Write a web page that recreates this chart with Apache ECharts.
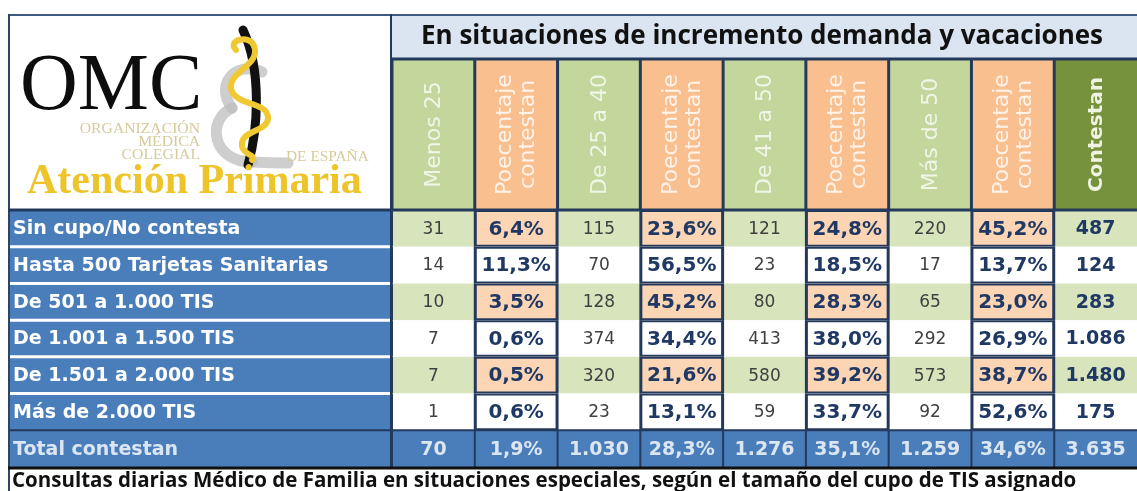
<!DOCTYPE html>
<html>
<head>
<meta charset="utf-8">
<script src="https://cdn.jsdelivr.net/npm/echarts@6/dist/echarts.min.js"></script>
<style>
  html, body { margin: 0; padding: 0; background: #fff; }
  #omc-table { width: 1137px; height: 491px; }
</style>
</head>
<body>
<div id="omc-table"></div>
<script>
const ROW_LABELS = ['Sin cupo/No contesta', 'Hasta 500 Tarjetas Sanitarias', 'De 501 a 1.000 TIS',
  'De 1.001 a 1.500 TIS', 'De 1.501 a 2.000 TIS', 'Más de 2.000 TIS', 'Total contestan'];
const COLUMN_LABELS = ['Menos 25', 'Poecentaje\ncontestan', 'De 25 a 40', 'Poecentaje\ncontestan',
  'De 41 a 50', 'Poecentaje\ncontestan', 'Más de 50', 'Poecentaje\ncontestan', 'Contestan'];
const COLUMN_KINDS = ['count', 'pct', 'count', 'pct', 'count', 'pct', 'count', 'pct', 'total'];

const MENOS_25 = [31, 14, 10, 7, 7, 1, 70];
const PCT_MENOS_25 = [6.4, 11.3, 3.5, 0.6, 0.5, 0.6, 1.9];
const DE_25_A_40 = [115, 70, 128, 374, 320, 23, 1030];
const PCT_DE_25_A_40 = [23.6, 56.5, 45.2, 34.4, 21.6, 13.1, 28.3];
const DE_41_A_50 = [121, 23, 80, 413, 580, 59, 1276];
const PCT_DE_41_A_50 = [24.8, 18.5, 28.3, 38.0, 39.2, 33.7, 35.1];
const MAS_DE_50 = [220, 17, 65, 292, 573, 92, 1259];
const PCT_MAS_DE_50 = [45.2, 13.7, 23.0, 26.9, 38.7, 52.6, 34.6];
const CONTESTAN = [487, 124, 283, 1086, 1480, 175, 3635];

const TITLE = 'En situaciones de incremento demanda y vacaciones';
const CAPTION = 'Consultas diarias Médico de Familia en situaciones especiales, según el tamaño del cupo de TIS asignado';

const NAVY = '#243a5c';
const BLUE = '#4a7ebb';
const SAGE = '#d8e4bc';
const PEACH = '#fcd5b4';
const HEAD_GREEN = '#c3d69b';
const HEAD_ORANGE = '#fabf8f';
const HEAD_DARK = '#76923c';
const FONT = 'DejaVu Sans';

const COLUMNS = [MENOS_25, PCT_MENOS_25, DE_25_A_40, PCT_DE_25_A_40, DE_41_A_50,
  PCT_DE_41_A_50, MAS_DE_50, PCT_MAS_DE_50, CONTESTAN];

const fmtCount = (n) => String(n).replace(/\B(?=(\d{3})+(?!\d))/g, '.');
const fmtPct = (v) => v.toFixed(1).replace('.', ',') + '%';

const cells = [];
COLUMNS.forEach((values, col) => {
  values.forEach((v, row) => cells.push([col, row]));
});
const cellText = (col, row) => {
  const v = COLUMNS[col][row];
  return COLUMN_KINDS[col] === 'pct' ? fmtPct(v) : fmtCount(v);
};

function cellRect(api, col, row) {
  const center = api.coord([col, row]);
  const size = api.size([1, 1]);
  return {x: center[0] - size[0] / 2, y: center[1] - size[1] / 2, width: size[0], height: size[1]};
}

function renderDataCell(params, api) {
  const col = api.value(0);
  const row = api.value(1);
  const r = cellRect(api, col, row);
  const kind = COLUMN_KINDS[col];
  const isTotal = row === ROW_LABELS.length - 1;
  let fill = '#ffffff';
  if (isTotal) fill = BLUE;
  else if (row % 2 === 0) fill = kind === 'pct' ? PEACH : SAGE;

  let textColor = '#404040';
  let weight = 'normal';
  let size = 17;
  if (kind === 'pct') { textColor = '#1f3864'; weight = 'bold'; size = 20; }
  if (kind === 'total') { textColor = '#1f3864'; weight = 'bold'; size = 19; }
  if (isTotal) { textColor = '#dce6f2'; weight = 'bold'; size = 19; }

  const children = [{type: 'rect', shape: r, style: {fill}}];
  if (kind === 'pct' && !isTotal) {
    children.push({type: 'rect',
      shape: {x: r.x + 1, y: r.y + 1, width: r.width - 2, height: r.height - 2},
      style: {fill: 'none', stroke: NAVY, lineWidth: 2}});
  }
  children.push({type: 'line', shape: {x1: r.x, y1: r.y, x2: r.x, y2: r.y + r.height},
    style: {stroke: NAVY, lineWidth: 2}});
  if (isTotal) {
    children.push({type: 'line', shape: {x1: r.x, y1: r.y, x2: r.x + r.width, y2: r.y},
      style: {stroke: NAVY, lineWidth: 2}});
  }
  children.push({type: 'text', x: r.x + r.width / 2, y: r.y + r.height / 2 + 1,
    style: {text: cellText(col, row), align: 'center', verticalAlign: 'middle',
      fontFamily: FONT, fontSize: size, fontWeight: weight, fill: textColor}});
  return {type: 'group', children};
}

function renderRowLabel(params, api) {
  const row = api.value(1);
  const r = cellRect(api, 0, row);
  const isTotal = row === ROW_LABELS.length - 1;
  const children = [
    {type: 'rect', shape: r, style: {fill: BLUE}},
  ];
  if (row > 0) {
    children.push({type: 'line', shape: {x1: r.x, y1: r.y, x2: r.x + r.width, y2: r.y},
      style: {stroke: isTotal ? NAVY : '#ffffff', lineWidth: isTotal ? 2 : 3}});
  }
  children.push({type: 'text', x: r.x + 5, y: r.y + r.height / 2 + 1,
    style: {text: ROW_LABELS[row], align: 'left', verticalAlign: 'middle',
      fontFamily: FONT, fontSize: 19, fontWeight: 'bold', fill: isTotal ? '#dce6f2' : '#ffffff'}});
  return {type: 'group', children};
}

function renderHeader(params, api) {
  const col = api.value(0);
  const r = cellRect(api, col, 0);
  const kind = COLUMN_KINDS[col];
  let fill = HEAD_GREEN, color = '#f0f5e6', weight = 'normal', size = 22;
  if (kind === 'pct') { fill = HEAD_ORANGE; color = '#fff3ea'; }
  if (kind === 'total') { fill = HEAD_DARK; color = '#eef3e2'; weight = 'bold'; size = 20; }
  return {type: 'group', children: [
    {type: 'rect', shape: r, style: {fill}},
    {type: 'line', shape: {x1: r.x, y1: r.y, x2: r.x, y2: r.y + r.height},
      style: {stroke: NAVY, lineWidth: 3}},
    {type: 'text', x: r.x + r.width / 2 + 1, y: r.y + r.height / 2, rotation: Math.PI / 2,
      style: {text: COLUMN_LABELS[col], align: 'center', verticalAlign: 'middle',
        fontFamily: FONT, fontSize: size, fontWeight: weight, lineHeight: 23, fill: color}}
  ]};
}

const hiddenAxis = {
  axisLine: {show: false}, axisTick: {show: false}, axisLabel: {show: false}, splitLine: {show: false}
};

const logoText = (text, x, y, opts, extra) => Object.assign({
  type: 'text', x, y, silent: true,
  style: Object.assign({text, fontFamily: 'Liberation Serif', verticalAlign: 'middle'}, opts)
}, extra);

// one cubic segment of the logo strokes: [x1, y1, cpx1, cpy1, cpx2, cpy2, x2, y2]
const curve = (p, style) => ({
  type: 'bezierCurve', silent: true,
  shape: {x1: p[0], y1: p[1], cpx1: p[2], cpy1: p[3], cpx2: p[4], cpy2: p[5], x2: p[6], y2: p[7]},
  style: Object.assign({fill: 'none', lineCap: 'round'}, style)
});

const shadowStyle = {stroke: '#bdbdbd', lineWidth: 11, opacity: 0.75};
const snakeStyle = {stroke: '#f0c832', lineWidth: 6};
const smallLogo = {fontSize: 14, fill: '#d6cb9c'};

const chartOptions = {
  animation: false,
  grid: [
    {left: 392, top: 210, width: 745, height: 257},
    {left: 8, top: 210, width: 384, height: 257},
    {left: 392, top: 59, width: 745, height: 151},
  ],
  xAxis: [
    Object.assign({type: 'category', gridIndex: 0, data: COLUMN_LABELS}, hiddenAxis),
    Object.assign({type: 'category', gridIndex: 1, data: ['label']}, hiddenAxis),
    Object.assign({type: 'category', gridIndex: 2, data: COLUMN_LABELS}, hiddenAxis),
  ],
  yAxis: [
    Object.assign({type: 'category', gridIndex: 0, inverse: true, data: ROW_LABELS}, hiddenAxis),
    Object.assign({type: 'category', gridIndex: 1, inverse: true, data: ROW_LABELS}, hiddenAxis),
    Object.assign({type: 'category', gridIndex: 2, data: ['header']}, hiddenAxis),
  ],
  series: [
    {type: 'custom', xAxisIndex: 0, yAxisIndex: 0, renderItem: renderDataCell, data: cells},
    {type: 'custom', xAxisIndex: 1, yAxisIndex: 1, renderItem: renderRowLabel,
      data: ROW_LABELS.map((l, i) => [0, i])},
    {type: 'custom', xAxisIndex: 2, yAxisIndex: 2, renderItem: renderHeader,
      data: COLUMN_LABELS.map((l, i) => [i, 0])},
  ],
  graphic: [
    // title band
    {type: 'rect', shape: {x: 392, y: 14, width: 745, height: 45}, style: {fill: '#dbe5f1'}},
    {type: 'text', x: 421, y: 37, style: {text: TITLE, fontFamily: 'Open Sans', fontWeight: 'bold',
      fontSize: 26, fill: '#111111', verticalAlign: 'middle'}},
    {type: 'line', shape: {x1: 392, y1: 59, x2: 1137, y2: 59}, style: {stroke: NAVY, lineWidth: 3}, z: 10},
    // frame
    {type: 'line', shape: {x1: 8, y1: 15, x2: 1137, y2: 15}, style: {stroke: '#3d5a80', lineWidth: 2}, z: 10},
    {type: 'line', shape: {x1: 9, y1: 14, x2: 9, y2: 491}, style: {stroke: '#2d4466', lineWidth: 2}, z: 10},
    {type: 'line', shape: {x1: 391, y1: 14, x2: 391, y2: 467}, style: {stroke: NAVY, lineWidth: 2}, z: 10},
    {type: 'line', shape: {x1: 8, y1: 210, x2: 1137, y2: 210}, style: {stroke: NAVY, lineWidth: 3}, z: 10},
    {type: 'line', shape: {x1: 8, y1: 468, x2: 1137, y2: 468}, style: {stroke: '#111111', lineWidth: 3}, z: 10},
    // caption
    {type: 'text', x: 12, y: 481, style: {text: CAPTION, fontFamily: 'Open Sans', fontWeight: 'bold',
      fontSize: 20.5, fill: '#111111', verticalAlign: 'middle'}},
    // logo: grey shadow, staff, snake
    curve([262, 72, 236, 60, 214, 84, 232, 108], shadowStyle),
    curve([232, 108, 206, 120, 212, 162, 252, 162], shadowStyle),
    curve([252, 162, 270, 163, 280, 163, 288, 163], shadowStyle),
    curve([243, 30, 262, 70, 258, 130, 248, 165], {stroke: '#111111', lineWidth: 9}),
    curve([236, 50, 226, 40, 250, 34, 254, 46], snakeStyle),
    curve([254, 46, 262, 66, 224, 72, 232, 92], snakeStyle),
    curve([232, 92, 240, 106, 268, 102, 268, 118], snakeStyle),
    curve([268, 118, 268, 132, 240, 130, 242, 146], snakeStyle),
    curve([242, 146, 244, 156, 256, 154, 252, 160], snakeStyle),
    logoText('OMC', 20, 88, {fontSize: 80, fill: '#0d0d0d'}),
    logoText('ORGANIZACIÓN', 200, 129, Object.assign({align: 'right'}, smallLogo), {scaleX: 1.12}),
    logoText('MÉDICA', 200, 142, Object.assign({align: 'right'}, smallLogo), {scaleX: 1.12}),
    logoText('COLEGIAL', 200, 155, Object.assign({align: 'right'}, smallLogo), {scaleX: 1.12}),
    logoText('DE ESPAÑA', 286, 157, smallLogo, {scaleX: 1.1}),
    logoText('Atención Primaria', 27, 182, {fontSize: 42, fontWeight: 'bold', fill: '#edc42a'}),
  ]
};

let tableChart;

function createTable() {
  tableChart = echarts.init(document.getElementById('omc-table'));
  tableChart.setOption(chartOptions);
}

createTable();
</script>
</body>
</html>
